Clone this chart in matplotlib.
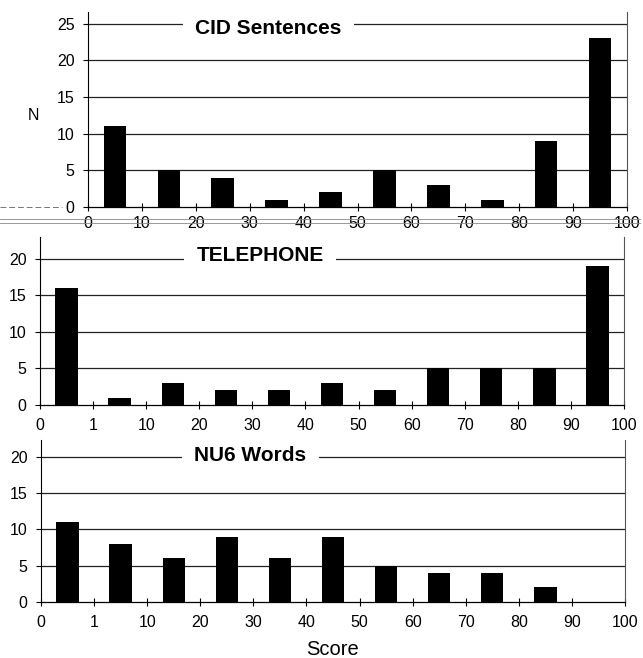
import matplotlib.pyplot as plt
import matplotlib.transforms as mtransforms
from matplotlib.lines import Line2D
import numpy as np

plt.rcParams['font.family'] = ['Liberation Sans', 'DejaVu Sans']

# data: counts per score bin
cid_counts = [11, 5, 4, 1, 2, 5, 3, 1, 9, 23]
cid_labels = ['0', '10', '20', '30', '40', '50', '60', '70', '80', '90', '100']

tel_counts = [16, 1, 3, 2, 2, 3, 2, 5, 5, 5, 19]
nu6_counts = [11, 8, 6, 9, 6, 9, 5, 4, 4, 2, 0]
edge_labels = ['0', '1', '10', '20', '30', '40', '50', '60', '70', '80', '90', '100']

W, H = 643, 658
fig = plt.figure(figsize=(W / 100, H / 100), dpi=100)


def px_axes(left, right, y0, ytop):
    return fig.add_axes([left / W, 1 - y0 / H, (right - left) / W, (y0 - ytop) / H])


def panel(ax, counts, labels, ymax, yticks, title, title_y, title_x, xpad):
    n = len(counts)
    x = np.arange(n) + 0.5
    ax.bar(x, counts, width=0.42, color='black', zorder=3)
    ax.set_xlim(0, n)
    ax.set_ylim(0, ymax)
    ax.set_xticks(np.arange(n + 1))
    ax.set_xticklabels(labels, fontsize=11.5)
    ax.set_yticks(yticks)
    ax.set_yticklabels([str(t) for t in yticks], fontsize=11.5)
    ax.tick_params(axis='x', direction='inout', length=6, width=0.8, pad=xpad)
    ax.tick_params(axis='y', direction='out', length=3.6, width=0.8, pad=6)
    for t in yticks[1:]:
        ax.axhline(t, color='#222222', lw=0.9, zorder=1)
    ax.spines['top'].set_visible(False)
    ax.spines['right'].set_color('#555555')
    ax.spines['right'].set_linewidth(0.8)
    ax.spines['left'].set_linewidth(0.8)
    ax.spines['bottom'].set_linewidth(0.9)
    trans = mtransforms.blended_transform_factory(ax.transAxes, ax.transData)
    ax.text(title_x, title_y, title, transform=trans, ha='center', va='center',
            fontsize=15, fontweight='bold', zorder=4,
            bbox=dict(facecolor='white', edgecolor='none', pad=9))


ax1 = px_axes(88, 627, 207, 12)
panel(ax1, cid_counts, cid_labels, 26.6, [0, 5, 10, 15, 20, 25],
      'CID Sentences', 24.4, 0.335, 3.5)

ax2 = px_axes(40, 624, 405, 237)
panel(ax2, tel_counts, edge_labels, 23, [0, 5, 10, 15, 20],
      'TELEPHONE', 20.4, 0.377, 6)

ax3 = px_axes(41, 625, 602, 440)
panel(ax3, nu6_counts, edge_labels, 22.3, [0, 5, 10, 15, 20],
      'NU6 Words', 20.2, 0.358, 6.5)
ax3.set_xlabel('Score', fontsize=14.5, labelpad=7)

fig.text(33 / W, 1 - 115 / H, 'N', fontsize=11.5, ha='center', va='center')

# scan artefacts: double rule through top x labels, dashed stub left of 0
for yy in (219, 223):
    fig.add_artist(Line2D([0, 640 / W], [1 - yy / H, 1 - yy / H], color='#888888', lw=0.6))
fig.add_artist(Line2D([0, 62 / W], [1 - 207 / H, 1 - 207 / H], color='#777777',
                      lw=0.7, ls=(0, (6, 3))))

plt.savefig('out.png', dpi=100)
